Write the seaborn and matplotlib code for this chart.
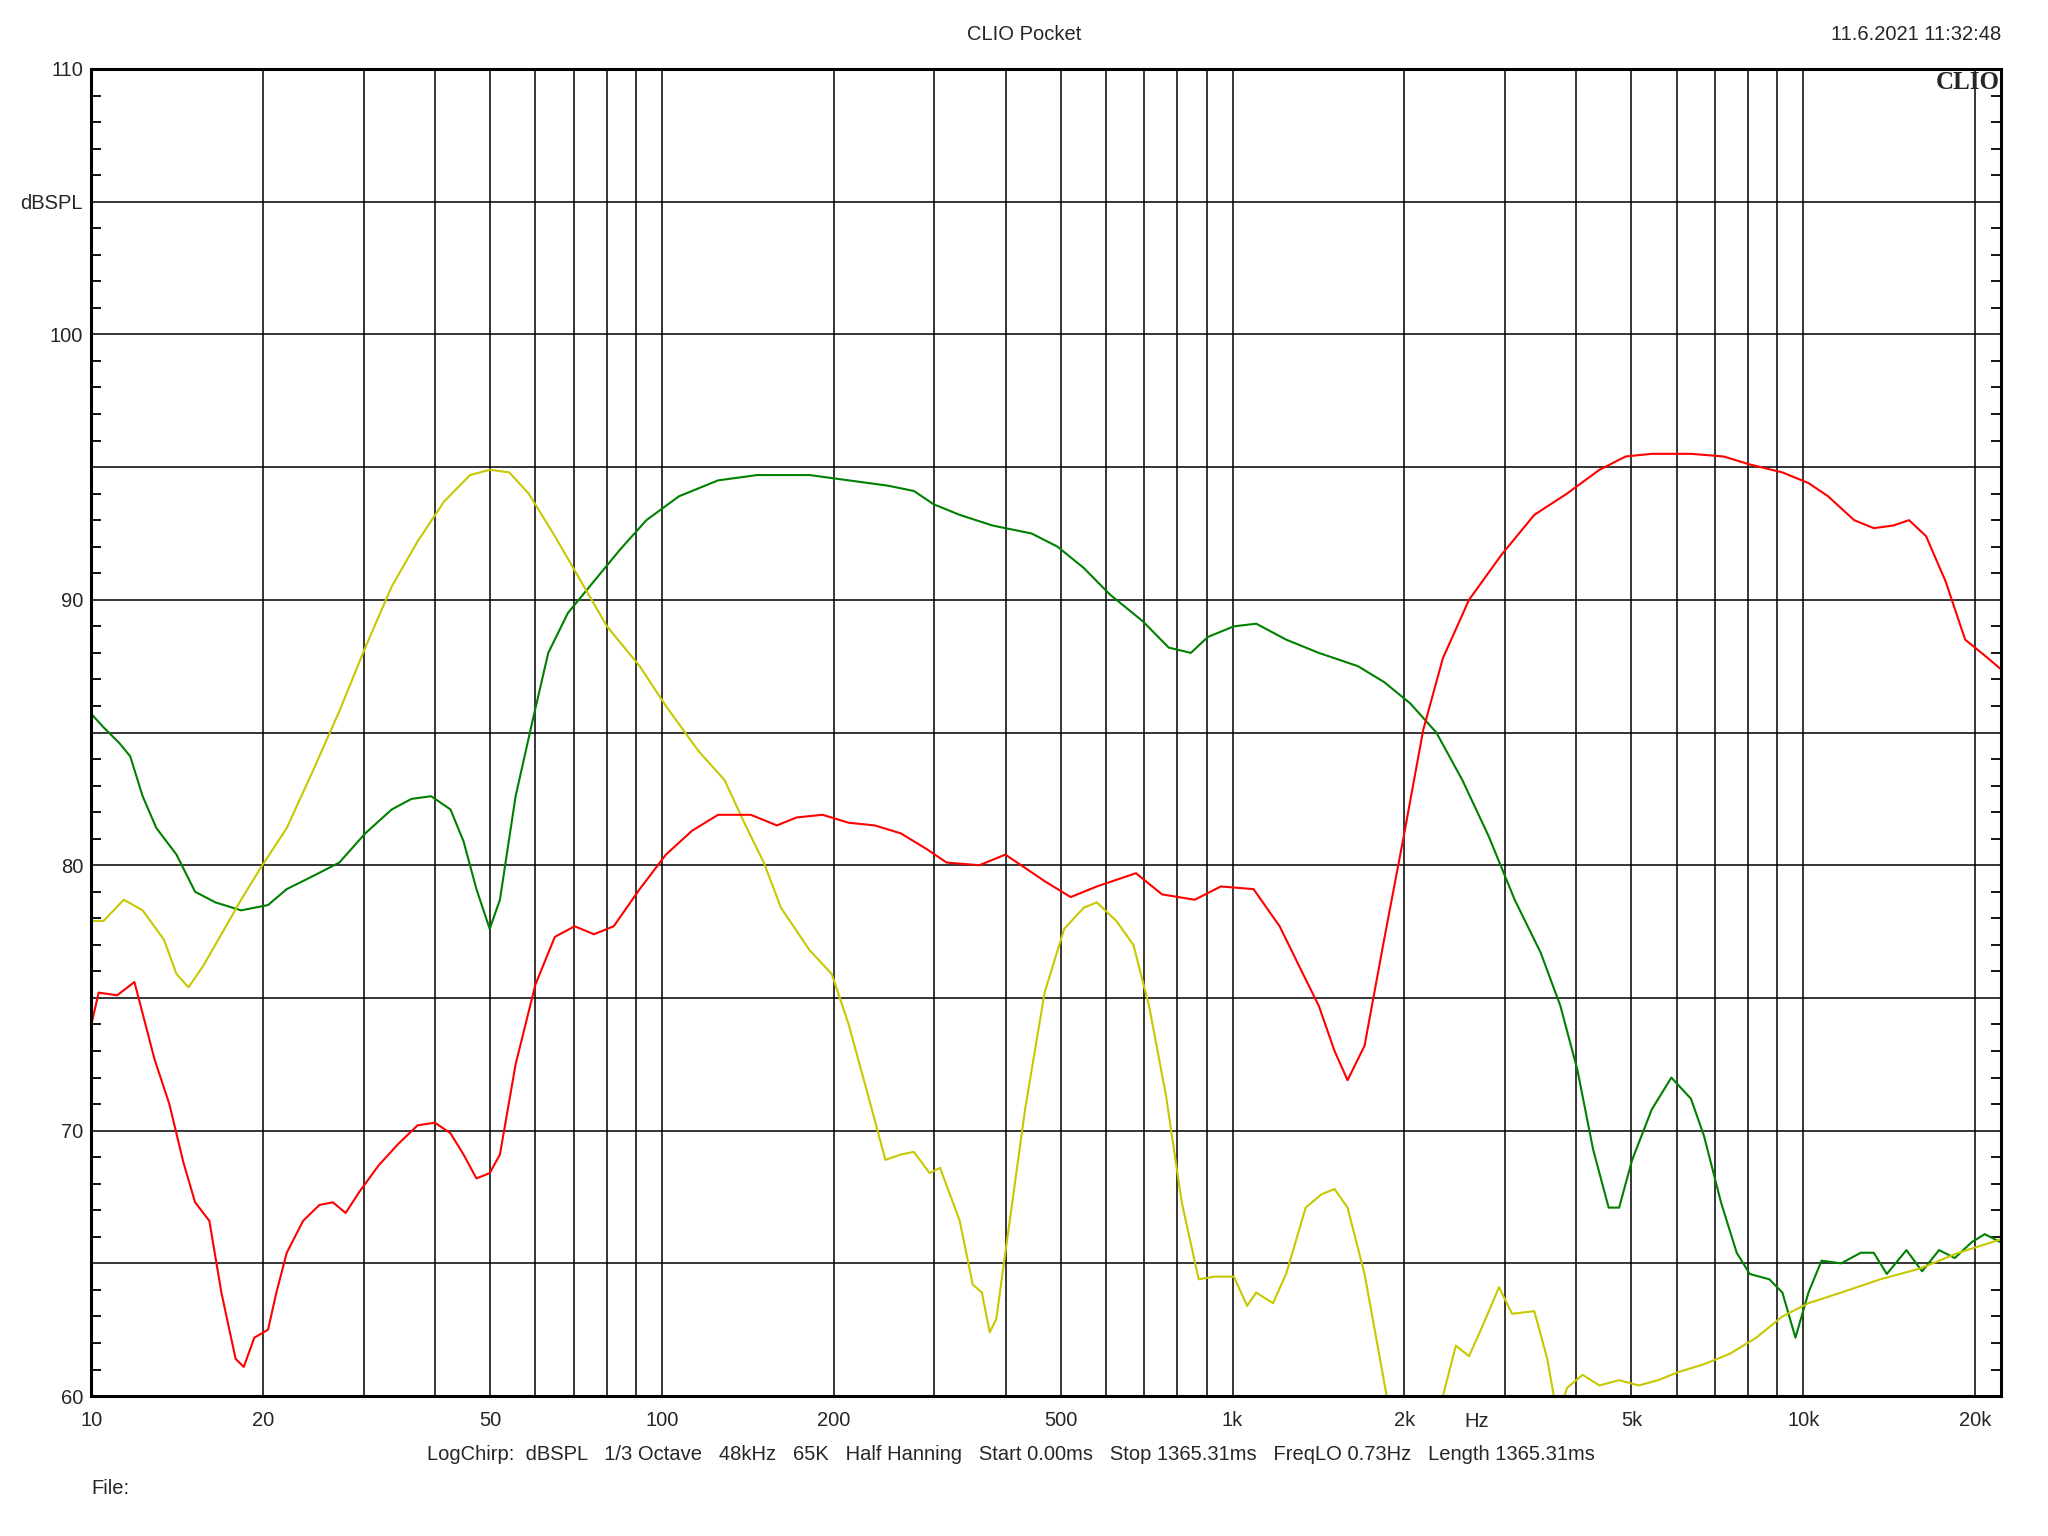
import matplotlib
matplotlib.use("Agg")
import matplotlib.pyplot as plt
import seaborn as sns
from matplotlib.ticker import FixedLocator, NullFormatter

# Frequency response data (Hz, dBSPL)
red_freq = [10, 10.3, 11.1, 11.9, 12.9, 13.7, 14.5, 15.2, 16.1, 16.9, 17.9, 18.5, 19.3, 20.4, 21.1,
            22.0, 23.5, 25.1, 26.5, 27.9, 29.5, 31.9, 34.5, 37.3, 40.0, 42.6, 44.9, 47.3, 49.9, 52.0,
            55.4, 60.0, 64.9, 70.3, 76.0, 82.3, 91.4, 101.6, 112.9, 125.4, 143.1, 159.0, 172.1, 191.2,
            212.4, 236.0, 262.2, 291.4, 315.4, 359.8, 399.7, 432.8, 468.3, 520.3, 578.1, 677.2, 752.2,
            858.2, 953.6, 1088, 1209, 1308, 1416, 1509, 1590, 1703, 1843, 1995, 2158, 2336, 2596, 2960,
            3378, 3853, 4395, 4884, 5427, 6357, 7252, 8058, 9193, 10212, 11053, 12281, 13291, 14383,
            15323, 16413, 17757, 19218, 20800, 22160]
red_db = [74.0, 75.2, 75.1, 75.6, 72.7, 71.0, 68.8, 67.3, 66.6, 63.9, 61.4, 61.1, 62.2, 62.5, 63.9,
          65.4, 66.6, 67.2, 67.3, 66.9, 67.7, 68.7, 69.5, 70.2, 70.3, 69.9, 69.1, 68.2, 68.4, 69.1,
          72.5, 75.5, 77.3, 77.7, 77.4, 77.7, 79.1, 80.4, 81.3, 81.9, 81.9, 81.5, 81.8, 81.9,
          81.6, 81.5, 81.2, 80.6, 80.1, 80.0, 80.4, 79.9, 79.4, 78.8, 79.2, 79.7, 78.9,
          78.7, 79.2, 79.1, 77.7, 76.2, 74.7, 73.0, 71.9, 73.2, 77.2, 81.1, 85.1, 87.8, 90.0, 91.7,
          93.2, 94.0, 94.9, 95.4, 95.5, 95.5, 95.4, 95.1, 94.8, 94.4, 93.9, 93.0, 92.7, 92.8,
          93.0, 92.4, 90.7, 88.5, 87.9, 87.4]

green_freq = [10, 10.5, 11.2, 11.7, 12.3, 13.0, 14.1, 15.2, 16.5, 18.3, 20.4, 22.0, 24.5, 27.2, 30.2,
              33.6, 36.4, 39.4, 42.6, 44.9, 47.3, 49.9, 52.0, 55.4, 59.4, 63.2, 68.4, 76.0, 84.5, 93.9,
              107.1, 125.4, 146.9, 181.4, 212.4, 248.9, 276.4, 299.2, 332.5, 379.3, 444.2, 493.5, 548.4,
              609.4, 695.3, 772.7, 845.0, 904.8, 1005, 1100, 1241, 1416, 1658, 1843, 2047, 2275, 2528,
              2809, 3121, 3467, 3753, 4019, 4282, 4560, 4757, 5014, 5427, 5873, 6357, 6700, 7175, 7645,
              8058, 8720, 9193, 9690, 10212, 10765, 11651, 12610, 13291, 14010, 15163, 16154, 17298,
              18430, 19738, 20800, 22160]
green_db = [85.7, 85.2, 84.6, 84.1, 82.6, 81.4, 80.4, 79.0, 78.6, 78.3, 78.5, 79.1, 79.6, 80.1, 81.2,
            82.1, 82.5, 82.6, 82.1, 80.9, 79.1, 77.6, 78.7, 82.6, 85.5, 88.0, 89.5, 90.7, 91.9, 93.0,
            93.9, 94.5, 94.7, 94.7, 94.5, 94.3, 94.1, 93.6, 93.2, 92.8, 92.5, 92.0, 91.2,
            90.2, 89.2, 88.2, 88.0, 88.6, 89.0, 89.1, 88.5, 88.0, 87.5, 86.9, 86.1, 85.0, 83.2,
            81.1, 78.7, 76.7, 74.7, 72.3, 69.3, 67.1, 67.1, 68.9, 70.8, 72.0, 71.2, 69.8, 67.3, 65.4,
            64.6, 64.4, 63.9, 62.2, 63.9, 65.1, 65.0, 65.4, 65.4, 64.6, 65.5, 64.7, 65.5,
            65.2, 65.8, 66.1, 65.8]

yellow_freq = [10, 10.5, 11.4, 12.3, 13.4, 14.1, 14.8, 15.7, 16.9, 18.3, 19.8, 22.0, 24.5, 27.2, 30.2,
               33.6, 37.3, 41.5, 46.1, 49.9, 54.0, 58.4, 64.9, 72.1, 80.1, 91.4, 101.6, 115.9, 128.8,
               139.4, 150.8, 161.6, 181.4, 198.4, 212.4, 229.9, 246.3, 262.2, 276.4, 294.5, 307.1, 332.5,
               350.4, 363.6, 375.3, 385.3, 399.7, 432.8, 468.3, 506.8, 548.4, 578.1, 625.6, 670.1, 713.8,
               764.6, 814.4, 872.0, 929.0, 1005, 1060, 1100, 1177, 1241, 1343, 1431, 1509, 1590, 1703,
               1795, 1862, 2102, 2336, 2462, 2596, 2736, 2930, 3088, 3378, 3560, 3655, 3753, 3853, 4105,
               4395, 4757, 5147, 5572, 6030, 6700, 7446, 8272, 9193, 10212, 11651, 13646, 15983, 18725,
               22160]
yellow_db = [77.9, 77.9, 78.7, 78.3, 77.2, 75.9, 75.4, 76.2, 77.4, 78.7, 79.9, 81.4, 83.6, 85.8, 88.2,
             90.5, 92.2, 93.7, 94.7, 94.9, 94.8, 94.0, 92.4, 90.7, 89.0, 87.5, 86.0, 84.3, 83.2,
             81.6, 80.1, 78.4, 76.8, 75.9, 74.0, 71.3, 68.9, 69.1, 69.2, 68.4, 68.6, 66.6,
             64.2, 63.9, 62.4, 62.9, 65.4, 70.8, 75.2, 77.6, 78.4, 78.6, 77.9, 77.0, 74.7,
             71.3, 67.3, 64.4, 64.5, 64.5, 63.4, 63.9, 63.5, 64.6, 67.1, 67.6, 67.8, 67.1, 64.6,
             61.9, 60.0, 57.0, 60.0, 61.9, 61.5, 62.6, 64.1, 63.1, 63.2, 61.4, 60.0, 59.5, 60.3, 60.8,
             60.4, 60.6, 60.4, 60.6, 60.9, 61.2, 61.6, 62.2, 63.0, 63.5, 63.9, 64.4, 64.8, 65.4,
             65.9]

# Axis ticks
x_ticks = [10, 20, 50, 100, 200, 500, 1000, 2000, 5000, 10000, 20000]
x_labels = ["10", "20", "50", "100", "200", "500", "1k", "2k", "5k", "10k", "20k"]
x_grid = [30, 40, 60, 70, 80, 90, 300, 400, 600, 700, 800, 900,
          3000, 4000, 6000, 7000, 8000, 9000]
y_ticks = [60, 65, 70, 75, 80, 85, 90, 95, 100, 105, 110]
y_labels = ["60", "", "70", "", "80", "", "90", "", "100", "dBSPL", "110"]

sns.set_style("white")
plt.rcParams["font.family"] = ["Liberation Sans", "DejaVu Sans"]
plt.rcParams["font.size"] = 14.5

fig = plt.figure(figsize=(20.48, 15.36), dpi=100)
ax = fig.add_axes([0.0446, 0.0911, 0.9324, 0.864])

sns.lineplot(x=green_freq, y=green_db, color="#008000", linewidth=1.5, sort=False, ax=ax)
sns.lineplot(x=yellow_freq, y=yellow_db, color="#C8C800", linewidth=1.5, sort=False, ax=ax)
sns.lineplot(x=red_freq, y=red_db, color="#FF0000", linewidth=1.5, sort=False, ax=ax)

ax.set_xscale("log")
ax.set_xlim(10, 22200)
ax.set_ylim(60, 110)

ax.xaxis.set_major_locator(FixedLocator(x_ticks))
ax.set_xticklabels(x_labels)
ax.xaxis.set_minor_locator(FixedLocator(x_grid))
ax.xaxis.set_minor_formatter(NullFormatter())
ax.set_yticks(y_ticks)
ax.set_yticklabels(y_labels)
ax.yaxis.set_minor_locator(FixedLocator(list(range(60, 111))))

ax.tick_params(axis="x", which="both", length=0, pad=11)
ax.tick_params(axis="y", which="major", length=0, pad=6)
ax.tick_params(axis="y", which="minor", direction="in", length=7, width=1.3,
               left=True, right=True, color="black")

ax.grid(True, which="major", axis="both", color="black", linewidth=1.1)
ax.grid(True, which="minor", axis="x", color="black", linewidth=1.1)
ax.set_axisbelow(True)
for s in ax.spines.values():
    s.set_color("black")
    s.set_linewidth(2.2)
ax.set_xlabel("")
ax.set_ylabel("")

# Header / footer texts
fig.text(0.5, 1 - 34 / 1536, "CLIO Pocket", ha="center", va="center")
fig.text(2001 / 2048, 1 - 34 / 1536, "11.6.2021 11:32:48", ha="right", va="center")
ax.text(0.9995, 0.9985, "CLIO", transform=ax.transAxes, ha="right", va="top",
        family=["Liberation Serif", "DejaVu Serif"], fontweight="heavy", fontsize=18)
ax.text(2680, -0.0188, "Hz", transform=ax.get_xaxis_transform(), ha="center", va="center")
fig.text(1011 / 2048, 1 - 1455 / 1536,
         "LogChirp:  dBSPL   1/3 Octave   48kHz   65K   Half Hanning   Start 0.00ms   "
         "Stop 1365.31ms   FreqLO 0.73Hz   Length 1365.31ms",
         ha="center", va="center")
fig.text(91 / 2048, 1 - 1489 / 1536, "File:", ha="left", va="center")

fig.savefig("out.png", dpi=100, facecolor="white")
